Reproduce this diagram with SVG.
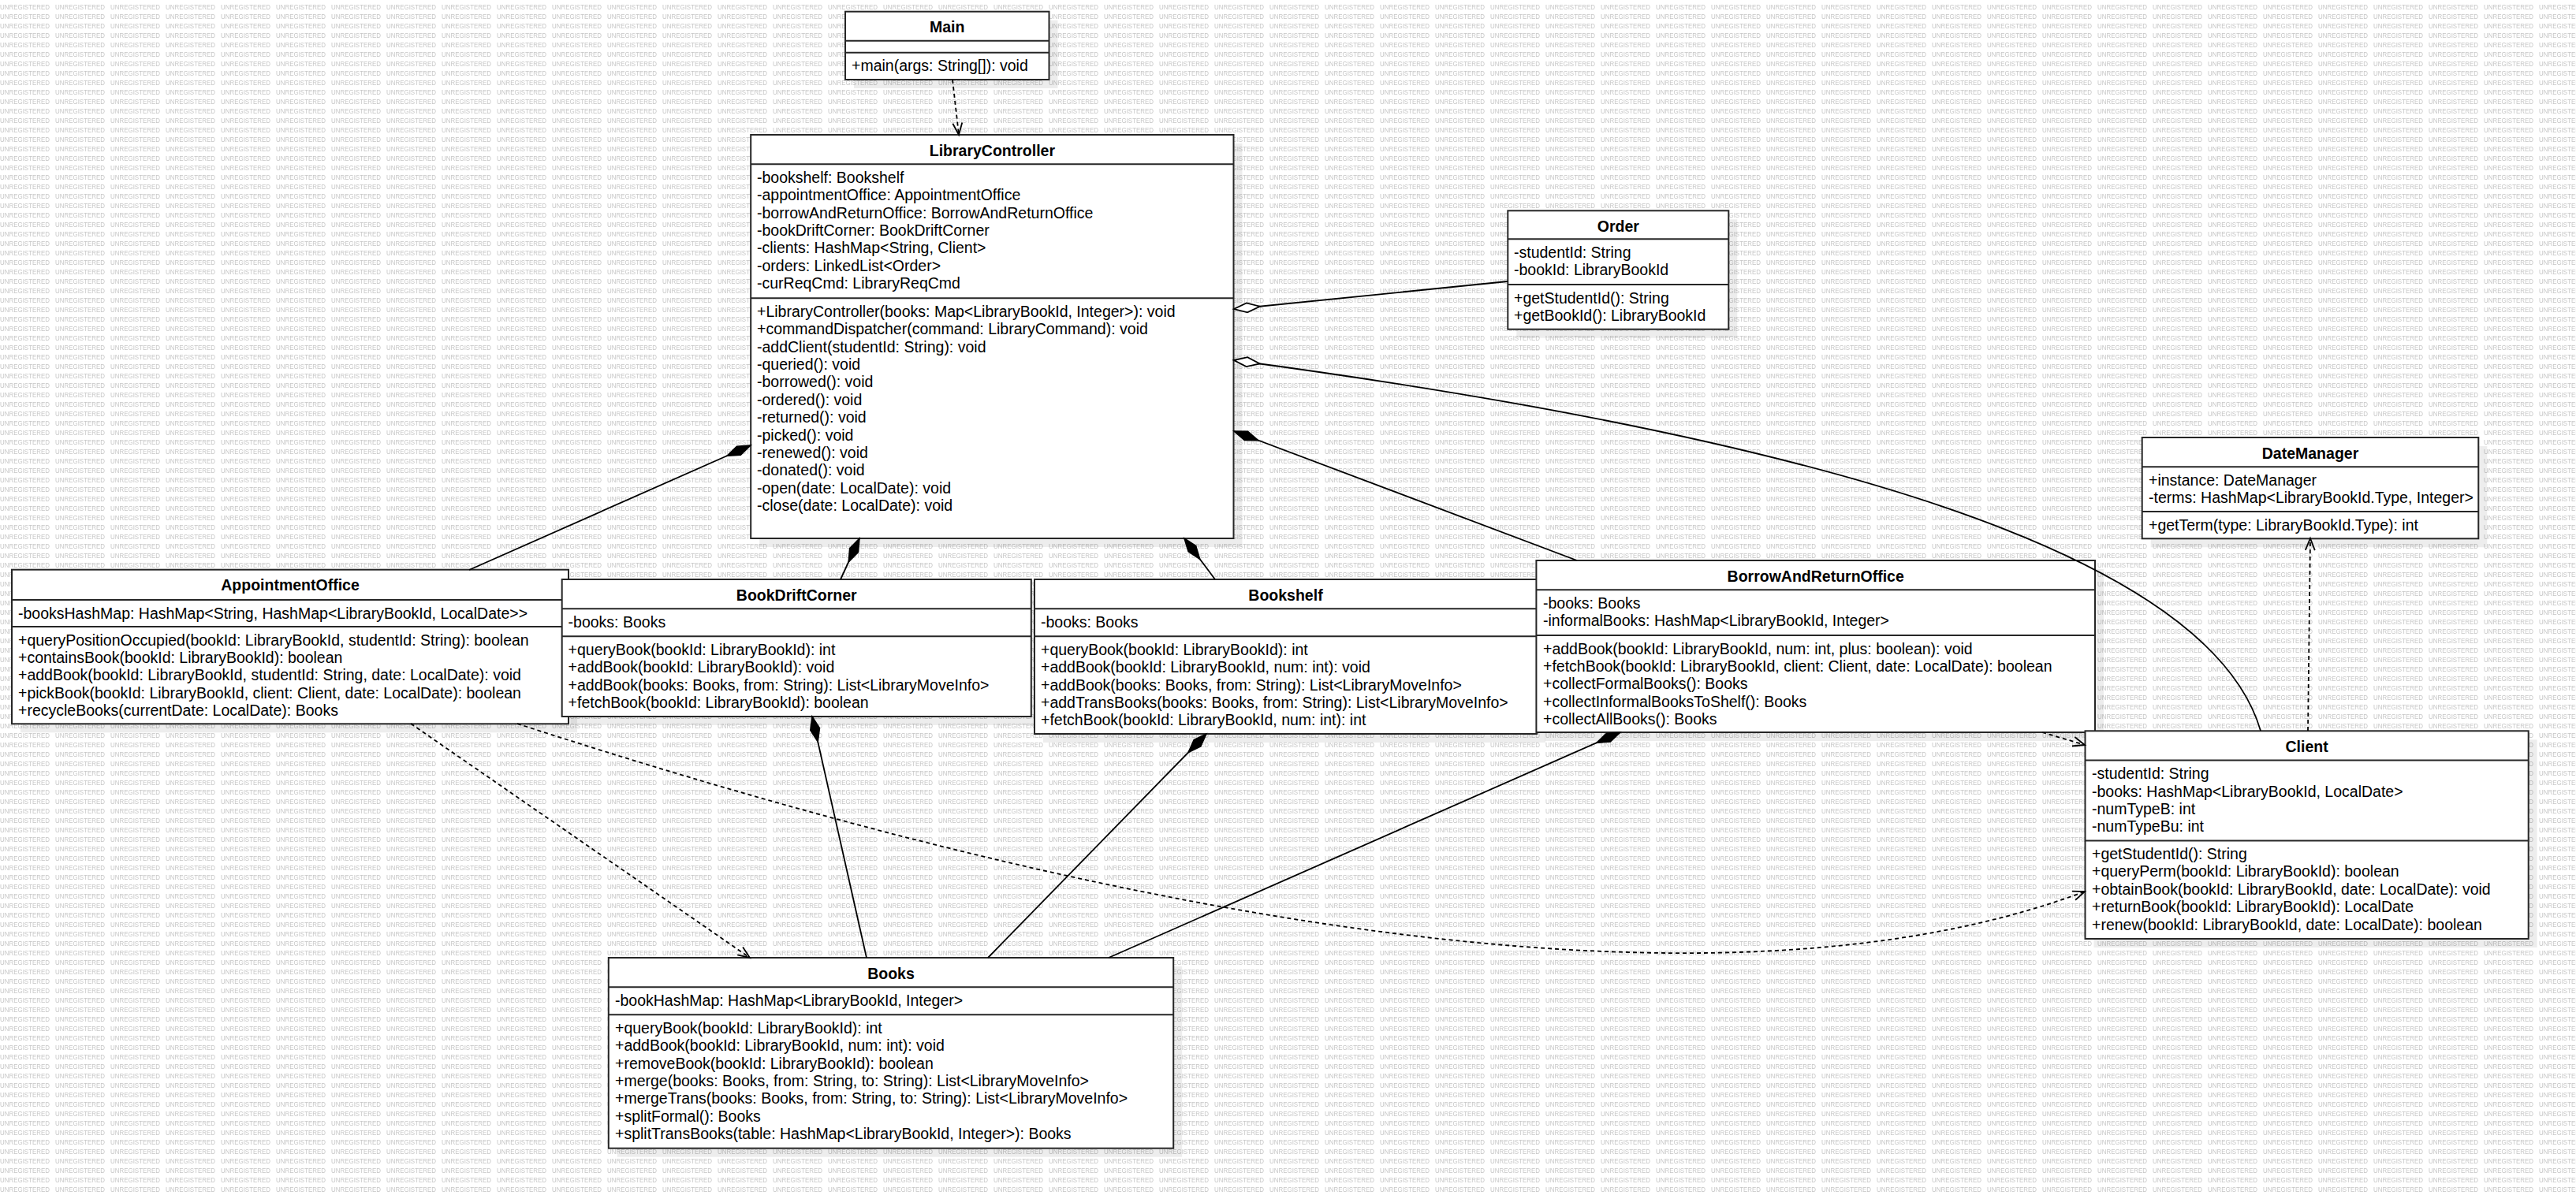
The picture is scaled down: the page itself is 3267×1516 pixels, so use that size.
<svg xmlns="http://www.w3.org/2000/svg" width="3267" height="1516" viewBox="0 0 3267 1516">
<style>
.box{fill:#fff;stroke:#262626;stroke-width:2}
.sh{fill:#000;fill-opacity:0.07}
.dv{stroke:#262626;stroke-width:2}
.t{font-family:"Liberation Sans",Arial,sans-serif;font-size:19.5px;fill:#000}
.ti{font-weight:bold;text-anchor:middle}
.c{fill:none;stroke:#000;stroke-width:1.8}
.d{stroke-dasharray:5 4}
</style>
<defs>
<pattern id="wm" width="70" height="12" patternUnits="userSpaceOnUse">
<text x="0" y="11.5" font-family="Liberation Sans,Arial,sans-serif" font-size="8.3" fill="#c6c6c6" textLength="63" lengthAdjust="spacingAndGlyphs">UNREGISTERED</text>
</pattern>
<marker id="df" markerUnits="userSpaceOnUse" markerWidth="40" markerHeight="20" refX="0" refY="0" orient="auto" overflow="visible"><path d="M0,0 L16.5,-6 L33,0 L16.5,6 Z" fill="#000" stroke="#000" stroke-width="1.5"/></marker>
<marker id="dh" markerUnits="userSpaceOnUse" markerWidth="40" markerHeight="20" refX="0" refY="0" orient="auto" overflow="visible"><path d="M0,0 L16.5,-6 L33,0 L16.5,6 Z" fill="#fff" stroke="#000" stroke-width="1.8"/></marker>
<marker id="ar" markerUnits="userSpaceOnUse" markerWidth="20" markerHeight="20" refX="0" refY="0" orient="auto" overflow="visible"><path d="M-15,-6 L0,0 L-15,6" fill="none" stroke="#000" stroke-width="1.8"/></marker>
</defs>
<rect width="3267" height="1516" fill="#fff"/>
<rect width="3267" height="1516" fill="url(#wm)"/>

<g id="Main">
<rect class="sh" x="1083" y="25.7" width="258.5" height="86.3"/>
<rect class="box" x="1072" y="14.7" width="258.5" height="86.3"/>
<line class="dv" x1="1072" y1="51.7" x2="1330.5" y2="51.7"/>
<line class="dv" x1="1072" y1="66.7" x2="1330.5" y2="66.7"/>
<text class="t ti" x="1201.2" y="41.4">Main</text>
<text class="t" x="1080" y="90.2">+main(args: String[]): void</text>
</g>

<g id="LibraryController">
<rect class="sh" x="963.2" y="182" width="612.3" height="512"/>
<rect class="box" x="952.2" y="171" width="612.3" height="512"/>
<line class="dv" x1="952.2" y1="208.3" x2="1564.5" y2="208.3"/>
<line class="dv" x1="952.2" y1="378.3" x2="1564.5" y2="378.3"/>
<text class="t ti" x="1258.4" y="197.7">LibraryController</text>
<text class="t">
<tspan x="960" y="231.8">-bookshelf: Bookshelf</tspan>
<tspan x="960" y="254.2">-appointmentOffice: AppointmentOffice</tspan>
<tspan x="960" y="276.6">-borrowAndReturnOffice: BorrowAndReturnOffice</tspan>
<tspan x="960" y="299">-bookDriftCorner: BookDriftCorner</tspan>
<tspan x="960" y="321.4">-clients: HashMap&lt;String, Client&gt;</tspan>
<tspan x="960" y="343.8">-orders: LinkedList&lt;Order&gt;</tspan>
<tspan x="960" y="366.2">-curReqCmd: LibraryReqCmd</tspan>
</text>
<text class="t">
<tspan x="960" y="401.8">+LibraryController(books: Map&lt;LibraryBookId, Integer&gt;): void</tspan>
<tspan x="960" y="424.2">+commandDispatcher(command: LibraryCommand): void</tspan>
<tspan x="960" y="446.6">-addClient(studentId: String): void</tspan>
<tspan x="960" y="469">-queried(): void</tspan>
<tspan x="960" y="491.4">-borrowed(): void</tspan>
<tspan x="960" y="513.8">-ordered(): void</tspan>
<tspan x="960" y="536.2">-returned(): void</tspan>
<tspan x="960" y="558.6">-picked(): void</tspan>
<tspan x="960" y="581">-renewed(): void</tspan>
<tspan x="960" y="603.4">-donated(): void</tspan>
<tspan x="960" y="625.8">-open(date: LocalDate): void</tspan>
<tspan x="960" y="648.2">-close(date: LocalDate): void</tspan>
</text>
</g>

<g id="Order">
<rect class="sh" x="1923.3" y="278.3" width="280" height="150.4"/>
<rect class="box" x="1912.3" y="267.3" width="280" height="150.4"/>
<line class="dv" x1="1912.3" y1="303.3" x2="2192.3" y2="303.3"/>
<line class="dv" x1="1912.3" y1="361" x2="2192.3" y2="361"/>
<text class="t ti" x="2052.3" y="293.5">Order</text>
<text class="t">
<tspan x="1920" y="326.8">-studentId: String</tspan>
<tspan x="1920" y="348.8">-bookId: LibraryBookId</tspan>
<tspan x="1920" y="384.5">+getStudentId(): String</tspan>
<tspan x="1920" y="406.5">+getBookId(): LibraryBookId</tspan>
</text>
</g>

<g id="DateManager">
<rect class="sh" x="2727.7" y="566" width="426.6" height="128.3"/>
<rect class="box" x="2716.7" y="555" width="426.6" height="128.3"/>
<line class="dv" x1="2716.7" y1="592.3" x2="3143.3" y2="592.3"/>
<line class="dv" x1="2716.7" y1="649" x2="3143.3" y2="649"/>
<text class="t ti" x="2930" y="581.5">DateManager</text>
<text class="t">
<tspan x="2725" y="615.8">+instance: DateManager</tspan>
<tspan x="2725" y="637.8">-terms: HashMap&lt;LibraryBookId.Type, Integer&gt;</tspan>
<tspan x="2725" y="672.5">+getTerm(type: LibraryBookId.Type): int</tspan>
</text>
</g>

<g id="AppointmentOffice">
<rect class="sh" x="26" y="733.7" width="706" height="195.6"/>
<rect class="box" x="15" y="722.7" width="706" height="195.6"/>
<line class="dv" x1="15" y1="761" x2="721" y2="761"/>
<line class="dv" x1="15" y1="795" x2="721" y2="795"/>
<text class="t ti" x="368" y="749.4">AppointmentOffice</text>
<text class="t">
<tspan x="23" y="784.5">-booksHashMap: HashMap&lt;String, HashMap&lt;LibraryBookId, LocalDate&gt;&gt;</tspan>
<tspan x="23" y="818.5">+queryPositionOccupied(bookId: LibraryBookId, studentId: String): boolean</tspan>
<tspan x="23" y="840.9">+containsBook(bookId: LibraryBookId): boolean</tspan>
<tspan x="23" y="863.3">+addBook(bookId: LibraryBookId, studentId: String, date: LocalDate): void</tspan>
<tspan x="23" y="885.7">+pickBook(bookId: LibraryBookId, client: Client, date: LocalDate): boolean</tspan>
<tspan x="23" y="908.1">+recycleBooks(currentDate: LocalDate): Books</tspan>
</text>
</g>

<g id="BookDriftCorner">
<rect class="sh" x="723.7" y="746" width="595.1" height="174"/>
<rect class="box" x="712.7" y="735" width="595.1" height="174"/>
<line class="dv" x1="712.7" y1="772.3" x2="1307.8" y2="772.3"/>
<line class="dv" x1="712.7" y1="807.3" x2="1307.8" y2="807.3"/>
<text class="t ti" x="1010.2" y="761.7">BookDriftCorner</text>
<text class="t">
<tspan x="720.6" y="795.8">-books: Books</tspan>
<tspan x="720.6" y="830.8">+queryBook(bookId: LibraryBookId): int</tspan>
<tspan x="720.6" y="853.2">+addBook(bookId: LibraryBookId): void</tspan>
<tspan x="720.6" y="875.6">+addBook(books: Books, from: String): List&lt;LibraryMoveInfo&gt;</tspan>
<tspan x="720.6" y="898">+fetchBook(bookId: LibraryBookId): boolean</tspan>
</text>
</g>

<g id="Bookshelf">
<rect class="sh" x="1323" y="746" width="637" height="196"/>
<rect class="box" x="1312" y="735" width="637" height="196"/>
<line class="dv" x1="1312" y1="772.3" x2="1949" y2="772.3"/>
<line class="dv" x1="1312" y1="807.3" x2="1949" y2="807.3"/>
<text class="t ti" x="1630.5" y="761.7">Bookshelf</text>
<text class="t">
<tspan x="1320" y="795.8">-books: Books</tspan>
<tspan x="1320" y="830.8">+queryBook(bookId: LibraryBookId): int</tspan>
<tspan x="1320" y="853.2">+addBook(bookId: LibraryBookId, num: int): void</tspan>
<tspan x="1320" y="875.6">+addBook(books: Books, from: String): List&lt;LibraryMoveInfo&gt;</tspan>
<tspan x="1320" y="898">+addTransBooks(books: Books, from: String): List&lt;LibraryMoveInfo&gt;</tspan>
<tspan x="1320" y="920.4">+fetchBook(bookId: LibraryBookId, num: int): int</tspan>
</text>
</g>

<g id="BorrowAndReturnOffice">
<rect class="sh" x="1959.4" y="722" width="708.6" height="218"/>
<rect class="box" x="1948.4" y="711" width="708.6" height="218"/>
<line class="dv" x1="1948.4" y1="748.3" x2="2657" y2="748.3"/>
<line class="dv" x1="1948.4" y1="806" x2="2657" y2="806"/>
<text class="t ti" x="2302.7" y="737.7">BorrowAndReturnOffice</text>
<text class="t">
<tspan x="1957" y="771.8">-books: Books</tspan>
<tspan x="1957" y="794.2">-informalBooks: HashMap&lt;LibraryBookId, Integer&gt;</tspan>
<tspan x="1957" y="829.5">+addBook(bookId: LibraryBookId, num: int, plus: boolean): void</tspan>
<tspan x="1957" y="851.9">+fetchBook(bookId: LibraryBookId, client: Client, date: LocalDate): boolean</tspan>
<tspan x="1957" y="874.3">+collectFormalBooks(): Books</tspan>
<tspan x="1957" y="896.7">+collectInformalBooksToShelf(): Books</tspan>
<tspan x="1957" y="919.1">+collectAllBooks(): Books</tspan>
</text>
</g>

<g id="Client">
<rect class="sh" x="2655.5" y="938.3" width="562.2" height="263.7"/>
<rect class="box" x="2644.5" y="927.3" width="562.2" height="263.7"/>
<line class="dv" x1="2644.5" y1="964.6" x2="3206.7" y2="964.6"/>
<line class="dv" x1="2644.5" y1="1066.5" x2="3206.7" y2="1066.5"/>
<text class="t ti" x="2925.6" y="954">Client</text>
<text class="t">
<tspan x="2653" y="988.1">-studentId: String</tspan>
<tspan x="2653" y="1010.5">-books: HashMap&lt;LibraryBookId, LocalDate&gt;</tspan>
<tspan x="2653" y="1032.9">-numTypeB: int</tspan>
<tspan x="2653" y="1055.3">-numTypeBu: int</tspan>
<tspan x="2653" y="1090">+getStudentId(): String</tspan>
<tspan x="2653" y="1112.4">+queryPerm(bookId: LibraryBookId): boolean</tspan>
<tspan x="2653" y="1134.8">+obtainBook(bookId: LibraryBookId, date: LocalDate): void</tspan>
<tspan x="2653" y="1157.2">+returnBook(bookId: LibraryBookId): LocalDate</tspan>
<tspan x="2653" y="1179.6">+renew(bookId: LibraryBookId, date: LocalDate): boolean</tspan>
</text>
</g>

<g id="Books">
<rect class="sh" x="782.8" y="1226" width="716.4" height="241.7"/>
<rect class="box" x="771.8" y="1215" width="716.4" height="241.7"/>
<line class="dv" x1="771.8" y1="1252.3" x2="1488.2" y2="1252.3"/>
<line class="dv" x1="771.8" y1="1287.3" x2="1488.2" y2="1287.3"/>
<text class="t ti" x="1130" y="1241.7">Books</text>
<text class="t">
<tspan x="780" y="1275.8">-bookHashMap: HashMap&lt;LibraryBookId, Integer&gt;</tspan>
<tspan x="780" y="1310.8">+queryBook(bookId: LibraryBookId): int</tspan>
<tspan x="780" y="1333.2">+addBook(bookId: LibraryBookId, num: int): void</tspan>
<tspan x="780" y="1355.6">+removeBook(bookId: LibraryBookId): boolean</tspan>
<tspan x="780" y="1378">+merge(books: Books, from: String, to: String): List&lt;LibraryMoveInfo&gt;</tspan>
<tspan x="780" y="1400.4">+mergeTrans(books: Books, from: String, to: String): List&lt;LibraryMoveInfo&gt;</tspan>
<tspan x="780" y="1422.8">+splitFormal(): Books</tspan>
<tspan x="780" y="1445.2">+splitTransBooks(table: HashMap&lt;LibraryBookId, Integer&gt;): Books</tspan>
</text>
</g>

<g id="connectors">
<path class="c d" d="M1208,101 L1216,171" marker-end="url(#ar)"/>
<path class="c" d="M1565,392 L1912,357" marker-start="url(#dh)"/>
<path class="c" d="M1565,457 C2300,555 2800,700 2867,927" marker-start="url(#dh)"/>
<path class="c" d="M952,565 L595,723" marker-start="url(#df)"/>
<path class="c" d="M1090,683 L1066,735" marker-start="url(#df)"/>
<path class="c" d="M1502,683 L1541,735" marker-start="url(#df)"/>
<path class="c" d="M1565,547 L2000,711" marker-start="url(#df)"/>
<path class="c" d="M1030,909 L1099,1215" marker-start="url(#df)"/>
<path class="c" d="M1530,931 L1253,1215" marker-start="url(#df)"/>
<path class="c" d="M2055,929 L1406,1215" marker-start="url(#df)"/>
<path class="c d" d="M521,918 L951,1215" marker-end="url(#ar)"/>
<path class="c d" d="M656,918 C1200,1095 2100,1335 2644,1131" marker-end="url(#ar)"/>
<path class="c d" d="M2590,929 L2644,945" marker-end="url(#ar)"/>
<path class="c d" d="M2927,927 L2930,683" marker-end="url(#ar)"/>
</g>
</svg>
